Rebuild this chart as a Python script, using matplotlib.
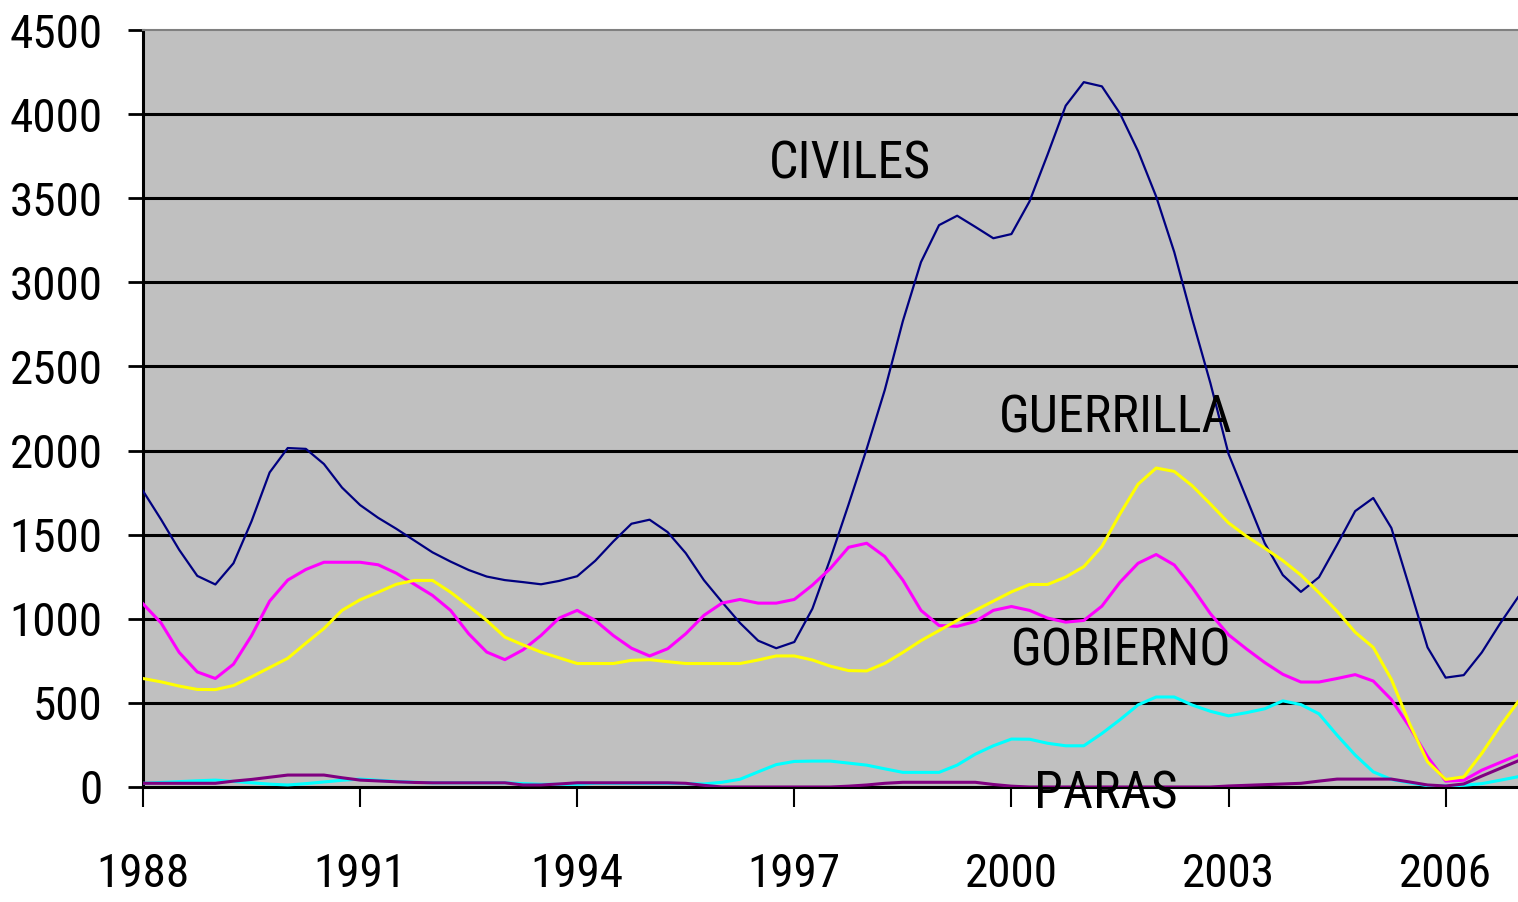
import numpy as np
import matplotlib
matplotlib.use("Agg")
import matplotlib.pyplot as plt
from matplotlib import font_manager as fm
from matplotlib.textpath import TextPath

# quarterly positions, 1988 .. 2007
years = np.linspace(1988, 2007, 77)

civiles = [1760, 1590, 1410, 1255, 1204, 1330, 1580, 1870, 2015, 2010,
           1920, 1780, 1676, 1600, 1535, 1465, 1395, 1340, 1290, 1251,
           1230, 1218, 1205, 1225, 1253, 1345, 1460, 1565, 1589, 1515,
           1390, 1230, 1100, 975, 870, 825, 862, 1060, 1360, 1680,
           2010, 2360, 2770, 3120, 3340, 3396, 3330, 3262, 3287, 3481,
           3760, 4050, 4190, 4165, 4004, 3780, 3510, 3180, 2780, 2400,
           1980, 1715, 1450, 1260, 1160, 1247, 1440, 1640, 1718, 1540,
           1188, 830, 650, 665, 800, 970, 1128]

guerrilla = [645, 625, 600, 580, 579, 603, 655, 710, 765, 855,
             942, 1050, 1113, 1158, 1205, 1228, 1228, 1158, 1075, 990,
             891, 845, 802, 768, 734, 734, 734, 753, 757, 745,
             734, 734, 734, 734, 755, 779, 779, 755, 718, 692,
             690, 735, 800, 870, 930, 990, 1050, 1105, 1160, 1204,
             1204, 1248, 1310, 1430, 1623, 1800, 1896, 1876, 1790, 1682,
             1570, 1490, 1420, 1346, 1260, 1155, 1045, 920, 830, 640,
             378, 150, 45, 60, 200, 360, 506]

gobierno = [1089, 975, 800, 684, 645, 730, 900, 1105, 1230, 1293,
            1336, 1336, 1336, 1321, 1271, 1205, 1139, 1050, 911, 802,
            757, 815, 901, 1004, 1050, 990, 900, 825, 779, 822,
            911, 1020, 1093, 1115, 1093, 1093, 1115, 1200, 1300, 1425,
            1449, 1370, 1230, 1050, 960, 955, 984, 1050, 1073, 1050,
            1004, 980, 990, 1075, 1217, 1330, 1382, 1320, 1185, 1030,
            905, 820, 740, 670, 624, 624, 645, 668, 630, 520,
            358, 180, 35, 40, 100, 145, 190]

cian = [22, 27, 32, 37, 41, 33, 25, 17, 12, 20,
        30, 40, 47, 40, 33, 28, 25, 25, 25, 25,
        25, 20, 16, 16, 16, 22, 22, 22, 22, 22,
        20, 18, 28, 46, 90, 133, 152, 154, 154, 142,
        130, 108, 87, 87, 87, 130, 195, 245, 285, 284,
        260, 245, 245, 318, 400, 488, 535, 535, 487, 450,
        423, 442, 465, 512, 490, 435, 308, 190, 90, 45,
        25, 8, 6, 10, 20, 40, 61]

paras = [22, 22, 22, 22, 22, 35, 45, 58, 71, 71,
         71, 55, 41, 36, 31, 27, 25, 25, 25, 25,
         25, 12, 12, 18, 25, 25, 25, 25, 25, 25,
         22, 10, 0, 0, 0, 0, 0, 0, 0, 5,
         12, 22, 28, 28, 28, 28, 28, 15, 5, 0,
         0, 0, 0, 0, 0, 0, 0, 0, 0, 0,
         6, 10, 14, 18, 22, 35, 47, 47, 47, 47,
         30, 12, 6, 18, 65, 110, 155]

xticks = [1988, 1991, 1994, 1997, 2000, 2003, 2006]
yticks = [0, 500, 1000, 1500, 2000, 2500, 3000, 3500, 4000, 4500]


def narrow_font():
    # the original uses a condensed face, take the narrowest one installed
    fonts = fm.fontManager.ttflist
    def regular(f):
        return f.style == "normal" and f.weight in (400, "normal", "regular")
    checks = [
        lambda f: f.name == "Noto Sans ExtraCondensed",
        lambda f: f.name == "Noto Sans" and f.stretch == "extra-condensed",
        lambda f: f.name == "Liberation Sans Narrow",
        lambda f: f.name == "Noto Sans Condensed",
        lambda f: f.name == "Noto Sans" and f.stretch == "condensed",
        lambda f: f.name == "Roboto Condensed",
        lambda f: f.fname.endswith("DejaVuSansCondensed.ttf"),
    ]
    for ok in checks:
        for f in fonts:
            if ok(f) and regular(f):
                return fm.FontProperties(fname=f.fname)
    return fm.FontProperties(family="Liberation Sans")


def fit(fp, text, width_px):
    # font size so that the text is width_px wide at 100 dpi
    p = fp.copy()
    p.set_size(40)
    w = TextPath((0, 0), text, prop=p).get_extents().width * 100 / 72
    p.set_size(40 * width_px / w)
    return p


base = narrow_font()
tick_fp = fit(base, "4500", 89)
lab_fp = fit(base, "GUERRILLA", 229)

fig = plt.figure(figsize=(15.18, 9.02), dpi=100)
ax = fig.add_axes([143 / 1518, 115 / 902, 1375 / 1518, 757 / 902])
ax.set_facecolor("#c0c0c0")

for y in yticks[1:-1]:
    ax.axhline(y, color="black", lw=2.2, zorder=1)

ax.plot(years, civiles, color="#000080", lw=1.6, zorder=3)
ax.plot(years, gobierno, color="#ff00ff", lw=2.2, zorder=3)
ax.plot(years, guerrilla, color="#ffff00", lw=2.2, zorder=3)
ax.plot(years, cian, color="#00ffff", lw=2.2, zorder=3)
ax.plot(years, paras, color="#800080", lw=2.2, zorder=3)

ax.set_xlim(1988, 2007)
ax.set_ylim(0, 4500)
ax.set_xticks(xticks)
ax.set_yticks(yticks)
ax.set_xticklabels([str(v) for v in xticks])
ax.set_yticklabels([str(v) for v in yticks])
for lab in ax.get_xticklabels() + ax.get_yticklabels():
    lab.set_fontproperties(tick_fp)

ax.tick_params(axis="y", direction="out", length=11, width=2, pad=18, colors="black")
ax.tick_params(axis="x", direction="out", length=14.5, width=1.5, pad=32, colors="black")

ax.spines["right"].set_visible(False)
ax.spines["top"].set_color("#808080")
ax.spines["top"].set_linewidth(1.5)
ax.spines["left"].set_linewidth(2.2)
ax.spines["bottom"].set_linewidth(2.2)

ax.text(1997.77, 3617, "CIVILES", fontproperties=lab_fp, ha="center", va="baseline", zorder=5)
ax.text(2001.44, 2107, "GUERRILLA", fontproperties=lab_fp, ha="center", va="baseline", zorder=5)
ax.text(2001.51, 723, "GOBIERNO", fontproperties=lab_fp, ha="center", va="baseline", zorder=5)
ax.text(2001.31, -125, "PARAS", fontproperties=lab_fp, ha="center", va="baseline", zorder=5, clip_on=False)

fig.savefig("out.png", dpi=100)
